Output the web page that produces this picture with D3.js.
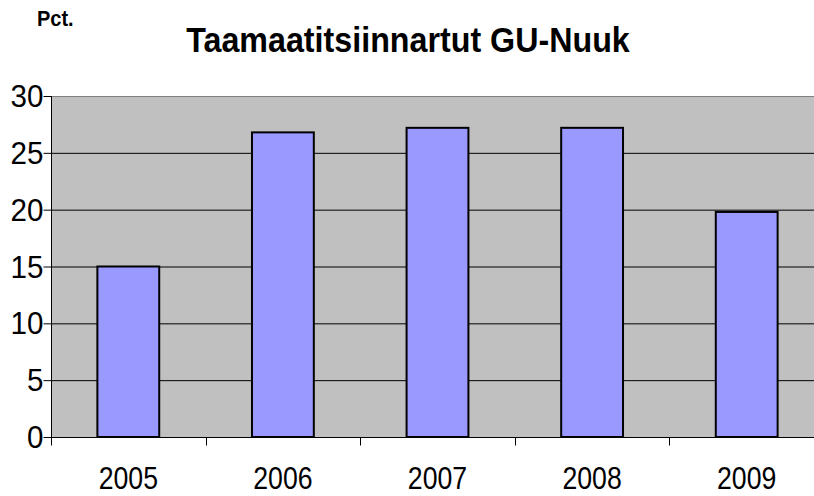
<!DOCTYPE html>
<html><head><meta charset="utf-8">
<script src="https://cdn.jsdelivr.net/npm/d3@7"></script>
<style>body{margin:0;background:#fff}svg{display:block}</style>
</head><body>
<script>
const years = ["2005","2006","2007","2008","2009"];
const values = [15, 26.8, 27.2, 27.2, 19.8];
const yTicks = [0,5,10,15,20,25,30];
const titleText = "Taamaatitsiinnartut GU-Nuuk";
const unitText = "Pct.";

(function () {
const W = 814, H = 496;
const pLeft = 51, pTop = 96, pBottom = 437, pRight = 824;
const FONT = "Liberation Sans, Arial, sans-serif";
const svg = d3.select("body").append("svg").attr("width", W).attr("height", H);

const x = d3.scaleBand().domain(years).range([pLeft, pRight]).paddingInner(0).paddingOuter(0);
const y = d3.scaleLinear().domain([0, 30]).range([pBottom, pTop]);

svg.append("rect").attr("x", pLeft).attr("y", pTop).attr("width", pRight - pLeft).attr("height", pBottom - pTop).attr("fill", "#C0C0C0");

// gridlines
svg.append("g").selectAll("line").data(yTicks.filter(d => d > 0)).join("line")
  .attr("x1", pLeft).attr("x2", pRight)
  .attr("y1", d => y(d) + 0.5).attr("y2", d => y(d) + 0.5)
  .attr("stroke", d => d === 30 ? "#808080" : "#000").attr("stroke-width", 1);

// bars
const bw = x.bandwidth() / 2.5;
svg.append("g").selectAll("rect").data(years).join("rect")
  .attr("x", (d) => x(d) + (x.bandwidth() - bw) / 2)
  .attr("y", (d, i) => y(values[i]))
  .attr("width", bw)
  .attr("height", (d, i) => pBottom - y(values[i]))
  .attr("fill", "#9999FF").attr("stroke", "#000").attr("stroke-width", 2);

// y axis
const yAxis = d3.axisLeft(y).tickValues(yTicks).tickSize(8).tickPadding(8);
const gy = svg.append("g").attr("transform", `translate(${pLeft + 0.5},0)`).call(yAxis);
gy.attr("font-size", null).attr("font-family", null);
gy.select(".domain").attr("d", `M0,${pTop}V${pBottom + 6}`).attr("stroke", "#000");
gy.selectAll(".tick line").attr("stroke", "#000");
gy.selectAll("text").attr("dy", null).attr("x", null)
  .attr("transform", "translate(-8,10.5) scale(1.02,1.1)")
  .style("font-family", FONT).style("font-size", "29px").attr("fill", "#000");

// x axis
const gx = svg.append("g").attr("transform", `translate(0,${pBottom + 0.5})`);
gx.append("line").attr("x1", pLeft).attr("x2", pRight).attr("y1", 0).attr("y2", 0).attr("stroke", "#000");
const bounds = years.map(d => x(d));
gx.selectAll("line.t").data(bounds).join("line").attr("class", "t")
  .attr("x1", d => Math.round(d) + 0.5).attr("x2", d => Math.round(d) + 0.5).attr("y1", 0).attr("y2", 8).attr("stroke", "#000");
gx.selectAll("text").data(years).join("text")
  .attr("transform", d => `translate(${x(d) + x.bandwidth() / 2},51) scale(0.92,1.1)`)
  .attr("text-anchor", "middle")
  .style("font-family", FONT).style("font-size", "29px").text(d => d);

svg.append("text").attr("transform", "translate(408,52) scale(1.04,1.12)").attr("text-anchor", "middle")
  .style("font-family", FONT).style("font-weight", "bold").style("font-size", "31px")
  .text(titleText);
svg.append("text").attr("transform", "translate(37,26) scale(1,1.12)")
  .style("font-family", FONT).style("font-weight", "bold").style("font-size", "20px")
  .text(unitText);
})();
</script>
</body></html>
